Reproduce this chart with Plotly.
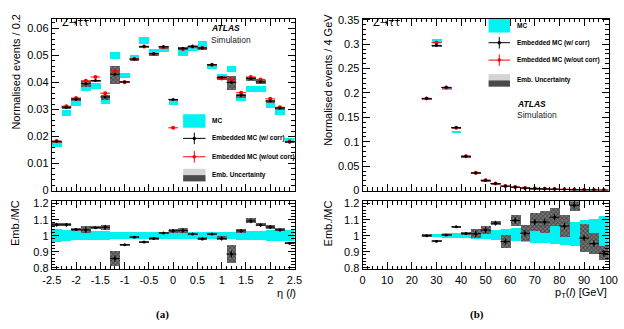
import plotly.graph_objects as go

# ---------------- data ----------------
eta_centers = [-2.4, -2.2, -2.0, -1.8, -1.6, -1.4, -1.2, -1.0, -0.8, -0.6, -0.4, -0.2, 0.0,
               0.2, 0.4, 0.6, 0.8, 1.0, 1.2, 1.4, 1.6, 1.8, 2.0, 2.2, 2.4]
eta_binw = 0.2
mc_eta = [0.0171, 0.0288, 0.0326, 0.0381, 0.0388, 0.0329, 0.0501, 0.0427, 0.0491, 0.0556, 0.0515, 0.0524, 0.0327,
          0.0510, 0.0528, 0.0543, 0.0460, 0.0424, 0.0451, 0.0342, 0.0378, 0.0376, 0.0317, 0.0292, 0.0188]
mc_eta_rel = [0.038, 0.036, 0.030, 0.028, 0.026, 0.026, 0.024, 0.022, 0.022, 0.022, 0.022, 0.022, 0.025,
              0.022, 0.022, 0.022, 0.022, 0.022, 0.024, 0.026, 0.028, 0.030, 0.032, 0.034, 0.036]
emb_eta = [0.0182, 0.0308, 0.0338, 0.0395, 0.0407, 0.0346, 0.0430, 0.0402, 0.0486, 0.0533, 0.0506, 0.0532, 0.0337,
           0.0526, 0.0533, 0.0527, 0.0465, 0.0418, 0.0400, 0.0352, 0.0414, 0.0402, 0.0331, 0.0305, 0.0180]
emb_eta_unc = [0.0004, 0.0006, 0.0005, 0.0011, 0.0005, 0.0008, 0.0034, 0.0004, 0.0004, 0.0005, 0.0005, 0.0006, 0.0005,
               0.0006, 0.0005, 0.0005, 0.0004, 0.0006, 0.0027, 0.0007, 0.0008, 0.0007, 0.0006, 0.0005, 0.0004]
red_eta = [0.0183, 0.0312, 0.0342, 0.0406, 0.0420, 0.0360, 0.0442, 0.0400, 0.0487, 0.0533, 0.0505, 0.0530, 0.0232,
           0.0522, 0.0533, 0.0527, 0.0465, 0.0414, 0.0410, 0.0362, 0.0420, 0.0411, 0.0339, 0.0308, 0.0181]
ratio_eta = [1.068, 1.068, 1.038, 1.036, 1.050, 1.052, 0.857, 0.944, 0.991, 0.960, 0.983, 1.017, 1.030,
             1.032, 1.010, 0.980, 1.010, 0.983, 0.885, 1.030, 1.092, 1.066, 1.054, 1.036, 0.953]
ratio_eta_unc = [0.012, 0.012, 0.008, 0.020, 0.006, 0.016, 0.046, 0.005, 0.006, 0.006, 0.006, 0.006, 0.012,
                 0.016, 0.008, 0.008, 0.006, 0.014, 0.058, 0.012, 0.014, 0.010, 0.012, 0.010, 0.007]

pt_centers = [26, 30, 34, 38, 42, 46, 50, 54, 58, 62, 66, 70, 74, 78, 82, 86, 90, 94, 98]
pt_binw = 4
mc_pt = [0.189, 0.308, 0.2105, 0.1223, 0.0696, 0.0358, 0.0203, 0.0134, 0.0095, 0.0065, 0.0052, 0.0041, 0.0033,
         0.0027, 0.0023, 0.0017, 0.0016, 0.0014, 0.0011]
mc_pt_up = [0.010, 0.012, 0.015, 0.018, 0.021, 0.025, 0.029, 0.034, 0.039, 0.045, 0.051, 0.057, 0.063, 0.070,
            0.077, 0.085, 0.095, 0.105, 0.120]
mc_pt_dn = [0.010, 0.011, 0.013, 0.015, 0.017, 0.020, 0.023, 0.027, 0.031, 0.035, 0.040, 0.045, 0.050, 0.055,
            0.060, 0.066, 0.070, 0.070, 0.065]
emb_pt = [0.189, 0.2975, 0.2115, 0.129, 0.0705, 0.0362, 0.0210, 0.0144, 0.0092, 0.0071, 0.0053, 0.0044, 0.0036,
          0.0030, 0.0024, 0.0020, 0.0016, 0.0013, 0.0010]
emb_pt_unc = [0.0015, 0.0015, 0.0010, 0.0010, 0.0008, 0.0008, 0.0005, 0.0004, 0.0004, 0.0003, 0.0003, 0.0003,
              0.0003, 0.0003, 0.0002, 0.0002, 0.0002, 0.0001, 0.0001]
red_pt = [0.1885, 0.303, 0.211, 0.1285, 0.0705, 0.0365, 0.0212, 0.0146, 0.0093, 0.0072, 0.0054, 0.0045, 0.0036,
          0.0030, 0.0025, 0.0020, 0.0016, 0.0013, 0.0010]
ratio_pt = [1.000, 0.966, 1.005, 1.055, 1.013, 1.012, 1.035, 1.078, 0.963, 1.095, 1.015, 1.085, 1.085, 1.115,
            1.060, 1.190, 0.985, 0.950, 0.890]
ratio_pt_unc = [0.007, 0.004, 0.004, 0.006, 0.008, 0.027, 0.025, 0.015, 0.042, 0.035, 0.050, 0.056, 0.070, 0.055,
                0.070, 0.035, 0.085, 0.065, 0.045]

eta_ticks = [-2.5, -2, -1.5, -1, -0.5, 0, 0.5, 1, 1.5, 2, 2.5]
eta_ticktext = ["-2.5", "-2", "-1.5", "-1", "-0.5", "0", "0.5", "1", "1.5", "2", "2.5"]

# ---------------- styles ----------------
W, H = 624, 329
CYAN = "#00f2f2"
FONT = "Liberation Sans"
HATCH = dict(shape="x", fgcolor="#111111", bgcolor="#7a7a7a", size=3, solidity=0.5)


def px(x):
    return x / W


def py(y):
    return 1 - y / H


fig = go.Figure()


def add_panel(xa, ya, xs, bw, mc, mc_up, mc_dn, emb, emb_unc, red):
    fig.add_trace(go.Bar(x=xs, y=[m * (u + d) for m, u, d in zip(mc, mc_up, mc_dn)],
                         base=[m * (1 - d) for m, d in zip(mc, mc_dn)], width=bw,
                         marker=dict(color=CYAN, line=dict(width=0)), xaxis=xa, yaxis=ya,
                         showlegend=False, hoverinfo="skip"))
    fig.add_trace(go.Bar(x=xs, y=[2 * u for u in emb_unc], base=[e - u for e, u in zip(emb, emb_unc)],
                         width=bw, marker=dict(color="#7a7a7a", pattern=HATCH, line=dict(width=0)),
                         xaxis=xa, yaxis=ya, showlegend=False, hoverinfo="skip"))
    fig.add_trace(go.Scatter(x=xs, y=red, mode="markers",
                             marker=dict(color="#ff0000", size=4),
                             error_x=dict(type="constant", value=bw / 2, color="#ff0000", thickness=1, width=0),
                             error_y=dict(type="data", array=[v * 0.012 for v in red], color="#ff0000",
                                          thickness=1, width=0),
                             xaxis=xa, yaxis=ya, showlegend=False))
    fig.add_trace(go.Scatter(x=xs, y=emb, mode="markers",
                             marker=dict(color="#000000", size=3),
                             error_x=dict(type="constant", value=bw / 2, color="#000000", thickness=1, width=0),
                             error_y=dict(type="data", array=[v * 0.008 for v in emb], color="#000000",
                                          thickness=1, width=0),
                             xaxis=xa, yaxis=ya, showlegend=False))


def add_ratio(xa, ya, xs, bw, up, dn, ratio, unc):
    fig.add_trace(go.Bar(x=xs, y=[u + d for u, d in zip(up, dn)], base=[1 - d for d in dn], width=bw,
                         marker=dict(color=CYAN, line=dict(width=0)), xaxis=xa, yaxis=ya,
                         showlegend=False, hoverinfo="skip"))
    fig.add_trace(go.Bar(x=xs, y=[2 * u for u in unc], base=[r - u for r, u in zip(ratio, unc)], width=bw,
                         marker=dict(color="#7a7a7a", pattern=HATCH, line=dict(width=0)),
                         xaxis=xa, yaxis=ya, showlegend=False, hoverinfo="skip"))
    fig.add_trace(go.Scatter(x=xs, y=ratio, mode="markers",
                             marker=dict(color="#000000", size=3),
                             error_x=dict(type="constant", value=bw / 2, color="#000000", thickness=1, width=0),
                             error_y=dict(type="data", array=[min(u, 0.02) for u in unc], color="#000000",
                                          thickness=1, width=0),
                             xaxis=xa, yaxis=ya, showlegend=False))


add_panel("x", "y", eta_centers, eta_binw, mc_eta, mc_eta_rel, mc_eta_rel, emb_eta, emb_eta_unc, red_eta)
add_ratio("x2", "y2", eta_centers, eta_binw, mc_eta_rel, mc_eta_rel, ratio_eta, ratio_eta_unc)
add_panel("x3", "y3", pt_centers, pt_binw, mc_pt, [0.012] * len(mc_pt), [0.012] * len(mc_pt),
          emb_pt, emb_pt_unc, red_pt)
add_ratio("x4", "y4", pt_centers, pt_binw, mc_pt_up, mc_pt_dn, ratio_pt, ratio_pt_unc)

LX = [px(44), px(293.5)]
RX = [px(363.5), px(616.5)]
TOPY = [py(192), py(14)]
BOTY = [py(273.5), py(203)]

tickfont = dict(family=FONT, size=11, color="black")
common = dict(showline=True, linecolor="black", linewidth=1, mirror="allticks", ticks="inside",
              tickcolor="black", zeroline=False, showgrid=False, tickfont=tickfont)

fig.update_layout(
    width=W, height=H, margin=dict(l=0, r=0, t=0, b=0),
    paper_bgcolor="white", plot_bgcolor="white",
    barmode="overlay", bargap=0, showlegend=False,
    font=dict(family=FONT, color="black"),
    xaxis=dict(domain=LX, anchor="y", range=[-2.5, 2.5], tickmode="linear", tick0=-2.5, dtick=0.5,
               ticklen=7, showticklabels=False,
               minor=dict(ticks="inside", tickmode="linear", tick0=-2.5, dtick=0.1, ticklen=3.5,
                          tickcolor="black"), **common),
    yaxis=dict(domain=TOPY, anchor="x", range=[0, 0.0636], tickmode="linear", tick0=0, dtick=0.01,
               ticklen=7, minor=dict(ticks="inside", tickmode="linear", tick0=0, dtick=0.002, ticklen=3.5,
                                     tickcolor="black"), **common),
    xaxis2=dict(domain=LX, anchor="y2", range=[-2.5, 2.5], tickmode="array", tickvals=eta_ticks,
                ticktext=eta_ticktext, ticklen=7,
                minor=dict(ticks="inside", tickmode="linear", tick0=-2.5, dtick=0.1, ticklen=3.5,
                           tickcolor="black"), **common),
    yaxis2=dict(domain=BOTY, anchor="x2", range=[0.79, 1.215], tickmode="linear", tick0=0.8, dtick=0.1,
                ticklen=7, minor=dict(ticks="inside", tickmode="linear", tick0=0.8, dtick=0.02, ticklen=3.5,
                                      tickcolor="black"), **common),
    xaxis3=dict(domain=RX, anchor="y3", range=[0, 100], tickmode="linear", tick0=0, dtick=10,
                ticklen=7, showticklabels=False,
                minor=dict(ticks="inside", tickmode="linear", tick0=0, dtick=2, ticklen=3.5,
                           tickcolor="black"), **common),
    yaxis3=dict(domain=TOPY, anchor="x3", range=[0, 0.3525], tickmode="linear", tick0=0, dtick=0.05,
                ticklen=7, minor=dict(ticks="inside", tickmode="linear", tick0=0, dtick=0.01, ticklen=3.5,
                                      tickcolor="black"), **common),
    xaxis4=dict(domain=RX, anchor="y4", range=[0, 100], tickmode="linear", tick0=0, dtick=10,
                ticklen=7, minor=dict(ticks="inside", tickmode="linear", tick0=0, dtick=2, ticklen=3.5,
                                      tickcolor="black"), **common),
    yaxis4=dict(domain=BOTY, anchor="x4", range=[0.79, 1.215], tickmode="linear", tick0=0.8, dtick=0.1,
                ticklen=7, minor=dict(ticks="inside", tickmode="linear", tick0=0.8, dtick=0.02, ticklen=3.5,
                                      tickcolor="black"), **common),
)

ann = []
shapes = []


def text(x, y, s, size=11, xanchor="left", yanchor="middle", angle=0, family=FONT, color="black"):
    ann.append(dict(x=px(x), y=py(y), xref="paper", yref="paper", text=s, showarrow=False,
                    xanchor=xanchor, yanchor=yanchor, textangle=angle,
                    font=dict(family=family, size=size, color=color)))


# axis titles
text(7, 7, "Normalised events / 0.2", size=11, xanchor="center", yanchor="top", angle=-90)
text(7, 200, "Emb./MC", size=11, xanchor="center", yanchor="top", angle=-90)
text(328, 7, "Normalised events / 4 GeV", size=11, xanchor="center", yanchor="top", angle=-90)
text(328, 200, "Emb./MC", size=11, xanchor="center", yanchor="top", angle=-90)
text(297, 298, "η (<i>l</i>)", size=11, xanchor="right")
text(617, 298, "p<sub>T</sub>(<i>l</i>) [GeV]", size=11, xanchor="right")
text(158, 320, "<b>(a)</b>", size=11, xanchor="center", family="Liberation Serif")
text(481, 320, "<b>(b)</b>", size=11, xanchor="center", family="Liberation Serif")

# in-plot labels
text(52, 18, "Z&#8594;&#964;&#964;", size=10, family="DejaVu Sans")
text(372, 18, "Z&#8594;&#964;&#964;", size=10, family="DejaVu Sans")
text(206, 24, "<b><i>ATLAS</i></b>", size=8.5)
text(206, 36, "Simulation", size=8.5, color="#222222")
text(520, 102, "<b><i>ATLAS</i></b>", size=8.5)
text(520, 114, "Simulation", size=8.5, color="#222222")


def legend(x0, x1, ymc, ycorr, yraw, yunc):
    xc = (x0 + x1) / 2
    shapes.append(dict(type="rect", xref="paper", yref="paper", x0=px(x0), x1=px(x1), y0=py(ymc - 7),
                       y1=py(ymc + 7), fillcolor=CYAN, line=dict(width=0)))
    for yy, col in ((ycorr, "#000000"), (yraw, "#ff0000")):
        shapes.append(dict(type="line", xref="paper", yref="paper", x0=px(x0), x1=px(x1), y0=py(yy),
                           y1=py(yy), line=dict(color=col, width=1)))
        shapes.append(dict(type="line", xref="paper", yref="paper", x0=px(xc), x1=px(xc), y0=py(yy - 6),
                           y1=py(yy + 6), line=dict(color=col, width=1)))
        shapes.append(dict(type="circle", xref="paper", yref="paper", x0=px(xc - 1.8), x1=px(xc + 1.8),
                           y0=py(yy - 1.8), y1=py(yy + 1.8), fillcolor=col, line=dict(width=0)))
    shapes.append(dict(type="rect", xref="paper", yref="paper", x0=px(x0), x1=px(x1), y0=py(yunc - 6.5),
                       y1=py(yunc), fillcolor="#d4d4d4", line=dict(width=0)))
    shapes.append(dict(type="rect", xref="paper", yref="paper", x0=px(x0), x1=px(x1), y0=py(yunc),
                       y1=py(yunc + 6.5), fillcolor="#4a4a4a", line=dict(width=0)))
    tx = x1 + 5
    text(tx, ymc, "<b>MC</b>", size=6.5)
    text(tx, ycorr, "<b>Embedded MC (w/ corr)</b>", size=6.5)
    text(tx, yraw, "<b>Embedded MC (w/out corr)</b>", size=6.5)
    text(tx, yunc, "<b>Emb. Uncertainty</b>", size=6.5)


legend(179, 202, 120, 138, 157, 176)
legend(493, 515, 21.5, 39, 57, 78)

fig.update_layout(annotations=ann, shapes=shapes)
fig.write_html("out.html")
